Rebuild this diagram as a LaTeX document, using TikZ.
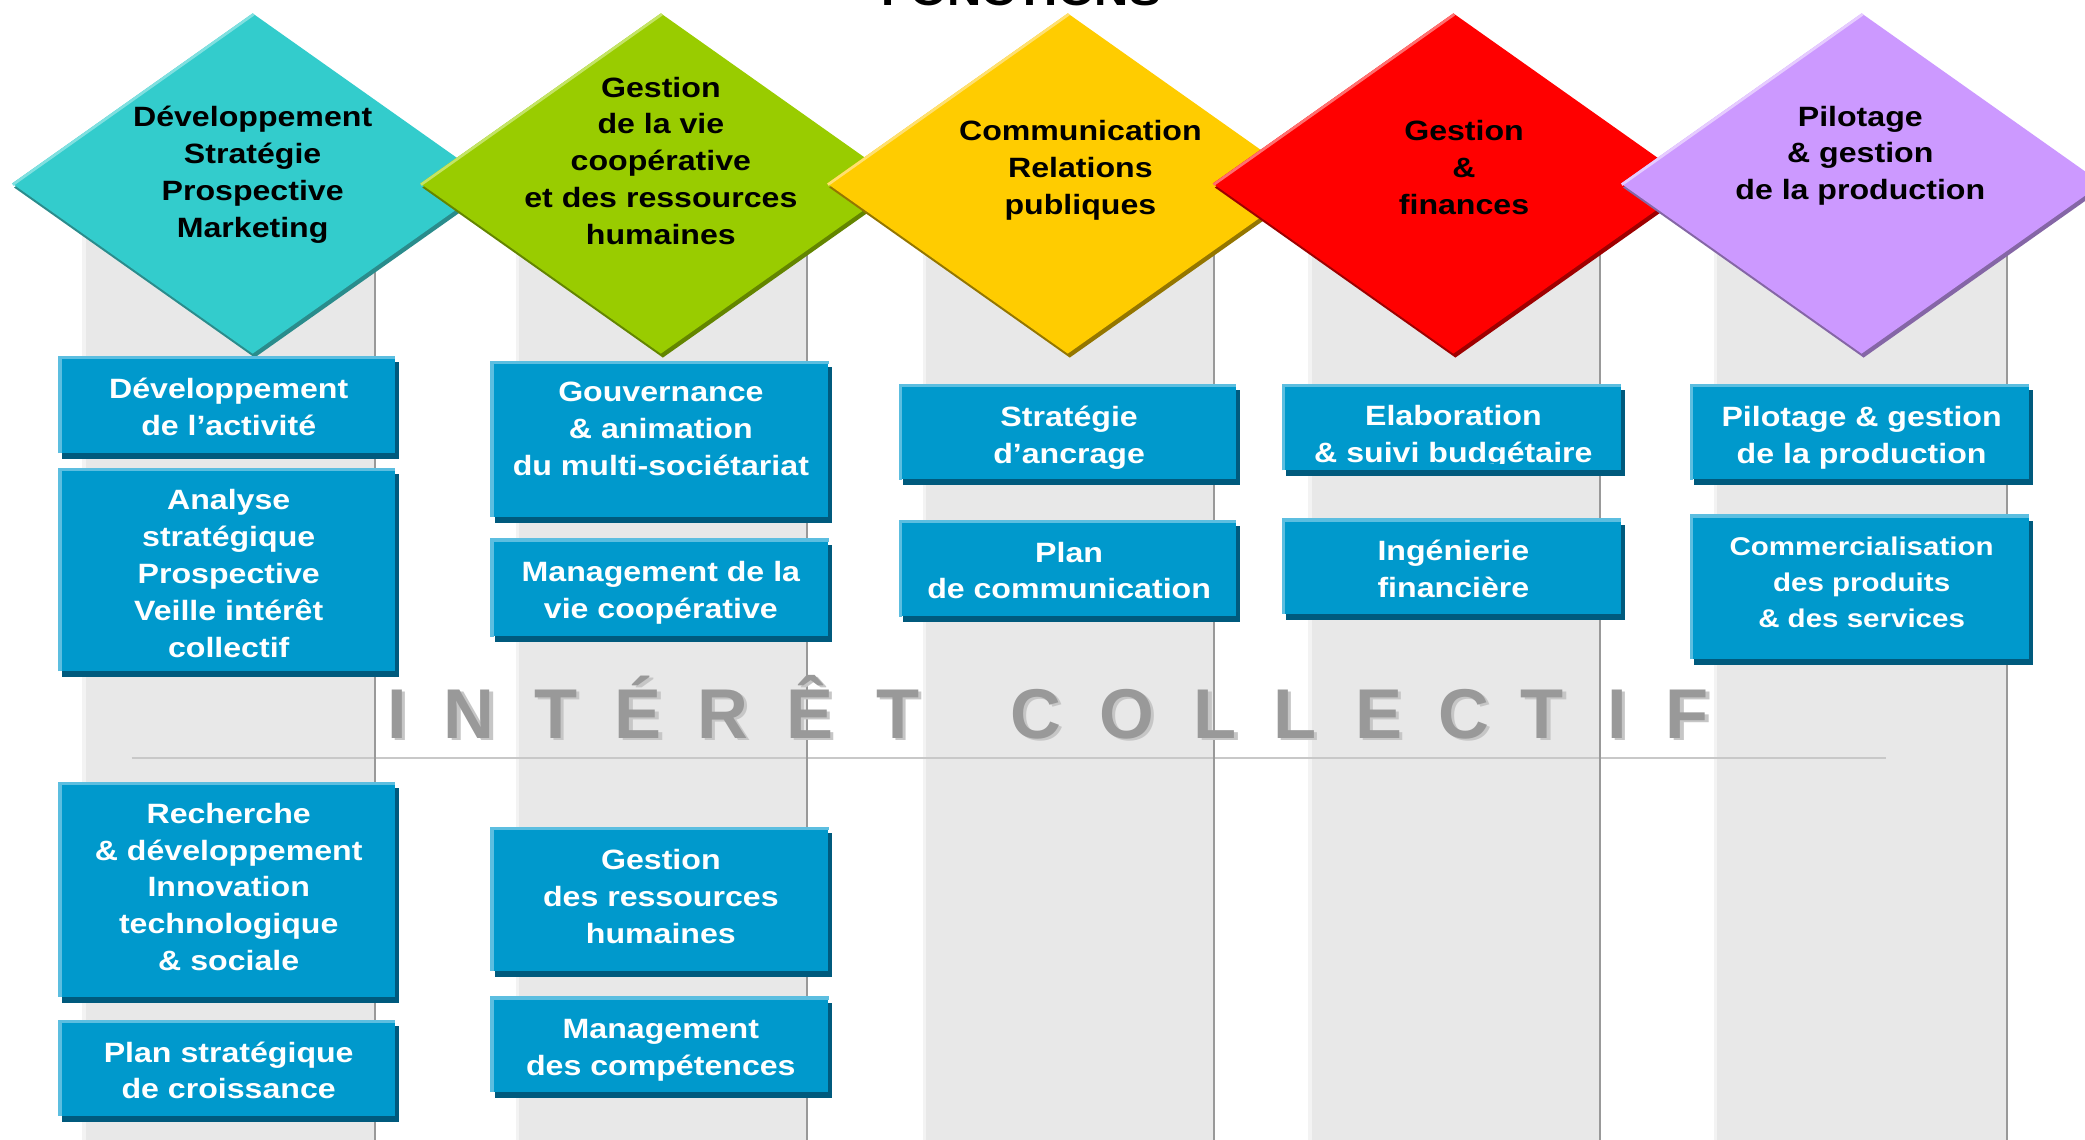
\documentclass[tikz,border=0pt]{standalone}
\usepackage{fontspec}
\setmainfont{Liberation Sans}
\newfontfamily\lblfont[FakeStretch=1.15]{Liberation Sans}
\usetikzlibrary{shapes.geometric,fit}

% palette
\definecolor{colgray}{HTML}{E8E8E8}
\definecolor{coledge}{HTML}{F3F3F3}
\definecolor{colline}{HTML}{999999}
\definecolor{sepline}{HTML}{C8C8C8}
\definecolor{boxblue}{HTML}{0099CC}
\definecolor{boxdark}{HTML}{005A7D}
\definecolor{boxlight}{HTML}{5CBEE0}
\definecolor{cteal}{HTML}{33CCCC}\definecolor{dteal}{HTML}{2A8C8C}\definecolor{lteal}{HTML}{80E0E0}
\definecolor{cgreen}{HTML}{99CC00}\definecolor{dgreen}{HTML}{638500}\definecolor{lgreen}{HTML}{C4E466}
\definecolor{cyellow}{HTML}{FFCC00}\definecolor{dyellow}{HTML}{947600}\definecolor{lyellow}{HTML}{FFE070}
\definecolor{cred}{HTML}{FF0000}\definecolor{dred}{HTML}{9E0000}\definecolor{lred}{HTML}{FF7070}
\definecolor{cviolet}{HTML}{CC99FF}\definecolor{dviolet}{HTML}{8566A6}\definecolor{lviolet}{HTML}{E6CCFF}
\definecolor{lettergray}{HTML}{999999}
\definecolor{lettershade}{HTML}{C6C6C6}

\begin{document}
\begin{tikzpicture}[x=1pt,y=-1pt,
  lbl/.style={font=\lblfont\bfseries\fontsize{21}{27.8}\selectfont, align=center, inner sep=0pt},
  dtext/.style={lbl, text=black},
  btext/.style={lbl, text=white},
  fonction/.style={diamond, minimum width=362pt, minimum height=256pt, inner sep=0pt,
    aspect=1.414, fill=c#1, preaction={fill=d#1, transform canvas={shift={(1.5pt,-3pt)}}}},
  bbox/.style={rectangle, inner sep=0pt, fill=boxblue,
    preaction={fill=boxdark, transform canvas={shift={(3pt,-4.5pt)}}}},
  bigl/.style={font=\fontsize{53}{60}\selectfont\bfseries, inner sep=0pt, anchor=base},
]
\useasboundingbox (0,0) rectangle (1568,857);
\clip (0,0) rectangle (1568,857);
\fill[white] (0,0) rectangle (1568,857);

% title, cut by the top edge
\node[font=\lblfont\bfseries\fontsize{31}{31}\selectfont, anchor=base, inner sep=0pt] (titre) at (768,4.5) {FONCTIONS};

% grey columns
\foreach \xa/\xb in {62/282, 388/607, 694/913, 984/1203, 1289/1509}{
  \fill[colgray] (\xa,165) rectangle (\xb,857);
  \fill[coledge] (\xa,165) rectangle (\xa+2.5,857);
}
\draw[sepline, line width=2pt] (99,570) -- (1418,570);
\foreach \xb in {282, 607, 913, 1203, 1509}{
  \draw[colline, line width=1.5pt] (\xb,165) -- (\xb,857);
}

% the five function diamonds
\foreach \n/\cx/\col in {d1/190/teal, d2/497/green, d3/803/yellow, d4/1093/red, d5/1400/violet}{
  \node[fonction=\col] (\n) at (\cx,138) {};
  \draw[l\col, line width=2pt] ([shift={(0.8pt,-0.9pt)}]\n.west) -- ([shift={(0.8pt,-0.9pt)}]\n.north);
}
\node[dtext] (dt1) at (190,131) {\strut Développement\\Stratégie\\Prospective\\Marketing\strut};
\node[dtext] (dt2) at (497,123) {\strut Gestion\\de la vie\\coopérative\\et des ressources\\humaines\strut};
\node[dtext] (dt3) at (812.5,128) {\strut Communication\\Relations\\publiques\strut};
\node[dtext] (dt4) at (1101,128) {\strut Gestion\\\&\\finances\strut};
\node[dtext] (dt5) at (1399,117) {\strut Pilotage\\\& gestion\\de la production\strut};

% blue activity boxes
\node[bbox, fit={(44,268) (297,340.5)}] (b1a) {};
\node[bbox, fit={(44,352) (297,504.5)}] (b1b) {};
\node[bbox, fit={(44,588) (297,749.5)}] (b1c) {};
\node[bbox, fit={(44,767) (297,839)}] (b1d) {};
\node[bbox, fit={(369,271.5) (623,388.5)}] (b2a) {};
\node[bbox, fit={(369,405) (623,478.5)}] (b2b) {};
\node[bbox, fit={(369,622) (623,730)}] (b2c) {};
\node[bbox, fit={(369,749.5) (623,821)}] (b2d) {};
\node[bbox, fit={(676,289) (929.5,360.5)}] (b3a) {};
\node[bbox, fit={(676,391) (929.5,463.5)}] (b3b) {};
\node[bbox, fit={(964,289) (1219,353.5)}] (b4a) {};
\node[bbox, fit={(964,390) (1219,461.5)}] (b4b) {};
\node[bbox, fit={(1271,289) (1526,360.5)}] (b5a) {};
\node[bbox, fit={(1271,387) (1526,495.5)}] (b5b) {};
\foreach \n in {b1a,b1b,b1c,b1d,b2a,b2b,b2c,b2d,b3a,b3b,b4a,b4b,b5a,b5b}{
  \draw[boxlight, line width=2.5pt] ([xshift=1.25pt]\n.south west) -- ([xshift=1.25pt,yshift=-1.25pt]\n.north west) -- ([yshift=-1.25pt]\n.north east);
}

\node[btext] (t1a) at (172,308) {\strut Développement\\de l’activité\strut};
\node[btext] (t1b) at (172,433) {\strut Analyse\\stratégique\\Prospective\\Veille intérêt\\collectif\strut};
\node[btext] (t1c) at (172,669) {\strut Recherche\\\& développement\\Innovation\\technologique\\\& sociale\strut};
\node[btext] (t1d) at (172,807) {\strut Plan stratégique\\de croissance\strut};
\node[btext] (t2a) at (497,324) {\strut Gouvernance\\\& animation\\du multi-sociétariat\strut};
\node[btext] (t2b) at (497,446) {\strut Management de la\\vie coopérative\strut};
\node[btext] (t2c) at (497,676) {\strut Gestion\\des ressources\\humaines\strut};
\node[btext] (t2d) at (497,789) {\strut Management\\des compétences\strut};
\node[btext] (t3a) at (804,329) {\strut Stratégie\\d’ancrage\strut};
\node[btext] (t3b) at (804,431) {\strut Plan\\de communication\strut};
\begin{scope}
  \clip (964,280) rectangle (1222,348.5);
  \node[btext] (t4a) at (1093,328) {\strut Elaboration\\\& suivi budgétaire\strut};
\end{scope}
\node[btext] (t4b) at (1093,430) {\strut Ingénierie\\financière\strut};
\node[btext] (t5a) at (1400,329) {\strut Pilotage \& gestion\\de la production\strut};
\node[btext, font=\lblfont\bfseries\fontsize{19.3}{27}\selectfont] (t5b) at (1400,439.6) {\strut Commercialisation\\des produits\\\& des services\strut};

% spaced banner across the columns
\foreach \x/\c [count=\i] in {298.5/I,353/N,418/T,480/É,543.5/R,609/Ê,675/T,779/C,847.5/O,914/L,974/L,1037/E,1101/C,1160/T,1216/I,1269/F}{
  \node[bigl, text=lettershade] (lz\i) at (\x+2.5,557) {\c};
  \node[bigl, text=lettergray] (ly\i) at (\x,555) {\c};
}
\end{tikzpicture}
\end{document}
